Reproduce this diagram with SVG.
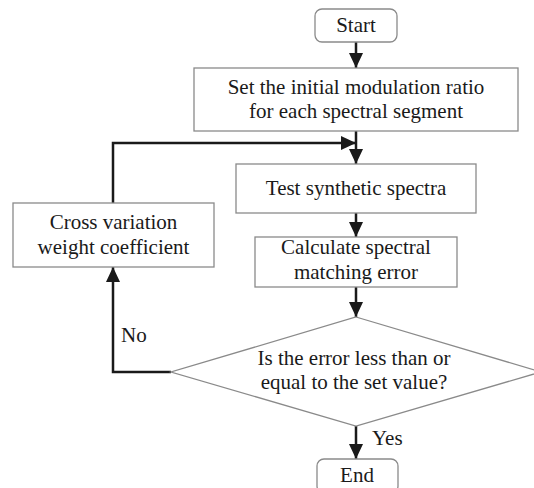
<svg xmlns="http://www.w3.org/2000/svg" width="534" height="488" viewBox="0 0 534 488">
<defs>
<style>
.box{fill:#fff;stroke:#8a8a8a;stroke-width:1.3}
.t{font-family:'Liberation Serif','Times New Roman',serif;font-size:21px;fill:#1a1a1a;text-anchor:middle}
.tl{font-family:'Liberation Serif','Times New Roman',serif;font-size:21px;fill:#1a1a1a}
.c{fill:none;stroke:#1a1a1a;stroke-width:2.5}
</style>
<marker id="ah" markerUnits="userSpaceOnUse" markerWidth="15" markerHeight="14" refX="15" refY="7" orient="auto">
<path d="M0,0 L15,7 L0,14 z" fill="#1a1a1a"/>
</marker>
</defs>
<rect width="534" height="488" fill="#fff"/>
<g id="connectors">
<path class="c" d="M356,42 V68" marker-end="url(#ah)"/>
<path class="c" d="M356,131 V164" marker-end="url(#ah)"/>
<path class="c" d="M113,203 V143 H356" marker-end="url(#ah)"/>
<path class="c" d="M356,213 V237" marker-end="url(#ah)"/>
<path class="c" d="M356,287 V317" marker-end="url(#ah)"/>
<path class="c" d="M171,372 H113 V267" marker-end="url(#ah)"/>
<path class="c" d="M356,426 V459" marker-end="url(#ah)"/>
<text class="tl" x="121" y="342">No</text>
<text class="tl" x="372" y="445">Yes</text>
</g>
<g id="start">
<rect class="box" x="315" y="9" width="82" height="33" rx="7"/>
<text class="t" x="356" y="32">Start</text>
</g>
<g id="init">
<rect class="box" x="194" y="68" width="324" height="63"/>
<text class="t" x="356" y="94">Set the initial modulation ratio</text>
<text class="t" x="356" y="118">for each spectral segment</text>
</g>
<g id="test">
<rect class="box" x="236" y="164" width="240" height="49"/>
<text class="t" x="356" y="195">Test synthetic spectra</text>
</g>
<g id="calc">
<rect class="box" x="255" y="237" width="202" height="50"/>
<text class="t" x="356" y="254">Calculate spectral</text>
<text class="t" x="356" y="279">matching error</text>
</g>
<g id="cross">
<rect class="box" x="13" y="203" width="201" height="64"/>
<text class="t" x="113.5" y="229">Cross variation</text>
<text class="t" x="113.5" y="254">weight coefficient</text>
</g>
<g id="decision">
<polygon class="box" points="356,317 541,372 356,426 171,372"/>
<text class="t" x="354" y="365">Is the error less than or</text>
<text class="t" x="354" y="389">equal to the set value?</text>
</g>
<g id="end">
<rect class="box" x="317" y="459" width="81" height="34" rx="7"/>
<text class="t" x="357" y="482">End</text>
</g>
</svg>
